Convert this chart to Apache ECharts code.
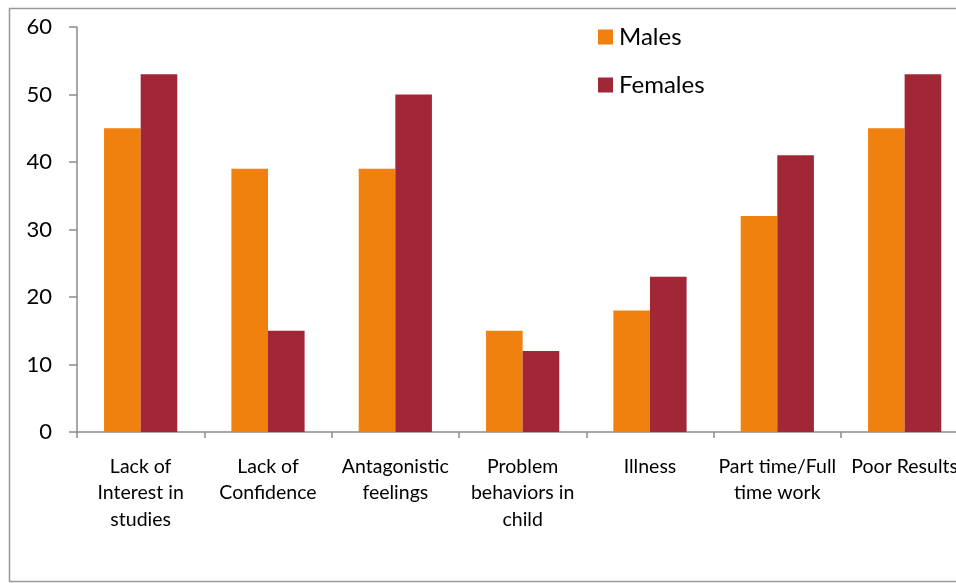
<!DOCTYPE html>
<html>
<head>
<meta charset="utf-8">
<script src="https://cdn.jsdelivr.net/npm/echarts@6/dist/echarts.min.js"></script>
<style>
html,body{margin:0;padding:0;overflow:hidden;background:#fff;}
#c{width:990px;height:583px;}
</style>
</head>
<body>
<div id="c"></div>
<script>
var categories = ["Lack of\nInterest in\nstudies", "Lack of\nConfidence", "Antagonistic\nfeelings", "Problem\nbehaviors in\nchild", "Illness", "Part time/Full\ntime work", "Poor Results"];
var males = [45, 39, 39, 15, 18, 32, 45];
var females = [53, 15, 50, 12, 23, 41, 53];
var yTicks = {min: 0, max: 60, interval: 10};

var chart = echarts.init(document.getElementById('c'), null, {renderer: 'canvas'});
chart.setOption({
  animation: false,
  textStyle: {fontFamily: 'Lato'},
  graphic: [{
    type: 'rect', z: -1, silent: true,
    shape: {x: 9.5, y: 8.5, width: 1200, height: 573},
    style: {fill: 'none', stroke: '#999', lineWidth: 1.5}
  }],
  legend: {
    orient: 'vertical', left: 593, top: 20, itemWidth: 15, itemHeight: 15, itemGap: 24,
    icon: 'rect',
    textStyle: {fontFamily: 'Lato', fontSize: 24, color: '#000', padding: [0, 0, 0, 1]},
    data: ['Males', 'Females']
  },
  grid: {left: 77, top: 27, right: 990 - 968.3, bottom: 583 - 432, containLabel: false},
  xAxis: {
    type: 'category', data: categories,
    axisLine: {lineStyle: {color: '#8c8c8c', width: 1.5}},
    axisTick: {show: true, length: 6, alignWithLabel: false, lineStyle: {color: '#8c8c8c', width: 1.5}},
    axisLabel: {interval: 0, margin: 21, fontFamily: 'Lato', fontSize: 19.5, color: '#000', lineHeight: 26.5, overflow: 'none'}
  },
  yAxis: {
    type: 'value', min: yTicks.min, max: yTicks.max, interval: yTicks.interval,
    axisLine: {show: true, lineStyle: {color: '#8c8c8c', width: 1.5}},
    axisTick: {show: true, length: 8, lineStyle: {color: '#8c8c8c', width: 1.5}},
    splitLine: {show: false},
    axisLabel: {margin: 25, fontFamily: 'Lato', fontSize: 22, color: '#000'}
  },
  series: [
    {name: 'Males', type: 'bar', data: males, barGap: '0%', barCategoryGap: '42.5%', itemStyle: {color: '#F0810F'}},
    {name: 'Females', type: 'bar', data: females, barGap: '0%', barCategoryGap: '42.5%', itemStyle: {color: '#A12737'}}
  ]
});
</script>
</body>
</html>
